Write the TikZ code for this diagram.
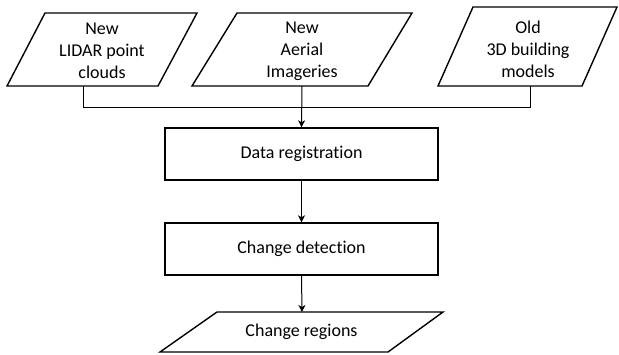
\documentclass[tikz,border=0pt]{standalone}
\usepackage{fontspec}
\setmainfont{Carlito}[Ligatures={NoCommon}]
\usetikzlibrary{arrows.meta}
\begin{document}
\begin{tikzpicture}[x=1pt,y=-1pt,
  outline/.style={draw=black,line width=1.4pt,line join=miter},
  label/.style={font=\fontsize{18}{22}\selectfont,align=center,inner sep=0pt},
  procbox/.style={draw=black,line width=1.4pt,minimum width=273pt,minimum height=52pt,
    font=\fontsize{18}{22}\selectfont,inner sep=0pt},
  link/.style={draw=black,line width=1pt},
  flow/.style={link,-{Stealth[length=7pt,width=7pt,inset=2pt]}}]
\useasboundingbox (0,0) rectangle (619,354);

% input data (parallelograms)
\draw[outline] (45,13) -- (197,13) -- (158,86) -- (7,86) -- cycle;
\node[label] (lidar) at (102,51) {New\\LIDAR point\\clouds};
\draw[outline] (237,13) -- (412,13) -- (368,86) -- (192,86) -- cycle;
\node[label] (aerial) at (302,51) {New\\Aerial\\Imageries};
\draw[outline] (473,7) -- (617,7) -- (582,86) -- (438,86) -- cycle;
\node[label] (model) at (528,49.5) {Old\\3D building\\models};

\coordinate (lidarout) at (83,86);
\coordinate (aerialout) at (302,86);
\coordinate (modelout) at (530,86);
\coordinate (merge) at (302,107);

% processing steps
\node[procbox] (reg) at (301.5,154) {Data registration};
\node[procbox] (det) at (301.5,249) {Change detection};

% output
\draw[outline] (217,312) -- (443,312) -- (388,352) -- (160,352) -- cycle;
\node[label] (out) at (301.5,332) {Change regions};
\coordinate (outtop) at (302,312);

% connectors
\draw[link] (lidarout) |- (merge);
\draw[link] (modelout) |- (merge);
\draw[flow] (aerialout) -- (reg.north);
\draw[flow] (reg.south) -- (det.north);
\draw[flow] (det.south) -- (outtop);
\end{tikzpicture}
\end{document}
